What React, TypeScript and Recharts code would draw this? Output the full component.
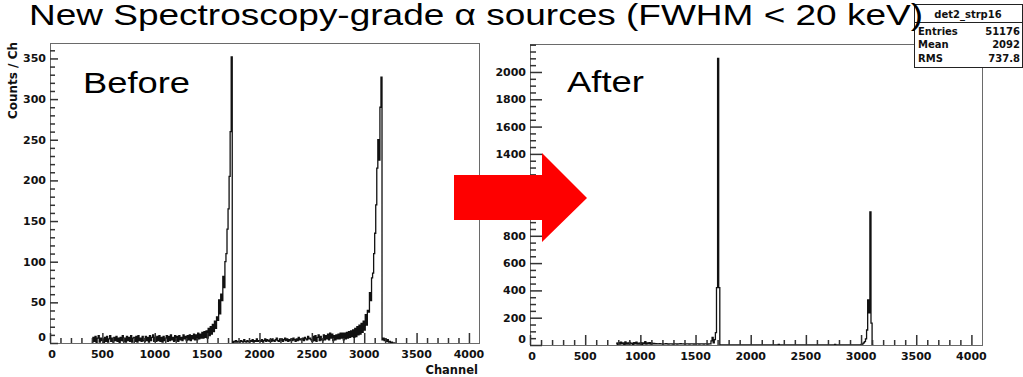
import { LineChart, Line, XAxis, YAxis } from "recharts";

// Histogram bins are 10 channels wide; each array starts at the given channel.
const BIN = 10;

const BEFORE_FIRST = 400;
const BEFORE_COUNTS = [
  1, 7, 2, 8, 0, 6, 9, 1, 6, 3,
  5, 0, 7, 2, 8, 1, 5, 9, 2, 6,
  1, 7, 3, 8, 2, 6, 0, 7, 3, 9,
  2, 6, 1, 8, 3, 7, 2, 9, 1, 6,
  7, 2, 8, 1, 9, 3, 6, 2, 8, 3,
  2, 8, 3, 7, 1, 9, 3, 7, 10, 2,
  7, 2, 8, 3, 9, 2, 7, 1, 8, 3,
  6, 9, 2, 8, 3, 10, 4, 7, 2, 9,
  3, 8, 2, 9, 4, 7, 3, 10, 5, 8,
  3, 9, 4, 10, 3, 9, 5, 11, 4, 10,
  4, 12, 5, 11, 6, 13, 6, 14, 7, 15,
  6, 18, 9, 20, 11, 23, 14, 27, 18, 32,
  28, 53, 36, 60, 52, 82, 68, 100, 110, 140,
  165, 205, 260, 352, 0, 2, 1, 3, 1, 2,
  2, 1, 3, 2, 1, 4, 2, 1, 3, 2,
  1, 3, 2, 4, 1, 3, 2, 5, 2, 3,
  3, 2, 4, 1, 3, 5, 2, 4, 3, 2,
  4, 2, 5, 3, 2, 4, 6, 3, 2, 5,
  3, 5, 2, 4, 6, 3, 5, 2, 4, 3,
  5, 3, 6, 4, 2, 5, 3, 7, 4, 5,
  4, 6, 3, 7, 5, 4, 8, 5, 6, 4,
  2, 8, 3, 9, 2, 7, 10, 3, 8, 4,
  3, 10, 4, 9, 5, 11, 4, 12, 6, 11,
  3, 9, 4, 10, 5, 11, 5, 12, 6, 12,
  4, 12, 5, 13, 6, 14, 7, 15, 8, 16,
  7, 18, 8, 20, 10, 22, 11, 24, 13, 27,
  16, 35, 22, 40, 38, 62, 52, 80, 86, 110,
  135, 170, 215, 250, 225, 290, 327, 4, 6, 3,
  5, 2, 4, 1, 2, 0, 1, 0, 0, 0,
];

const AFTER_LOW_FIRST = 780;
const AFTER_LOW_COUNTS = [
  14, 4, 18, 6, 20, 8, 15, 5, 22, 7,
  16, 6, 19, 9, 14, 5, 17, 8, 21, 6,
  13, 7, 18, 5, 16, 9, 24, 6, 15, 8,
  17, 6, 14, 9, 12, 8, 9, 8, 8, 9,
  8, 8, 7, 8, 8, 9, 8, 7, 8, 8,
  8, 7, 8, 8, 8, 7, 8, 8, 9, 8,
  8, 8, 7, 8, 8, 8, 7, 8, 8, 8,
  7, 8, 8, 8, 8, 7, 8, 8, 8, 7,
  8, 8, 8, 7, 8, 8, 30, 55, 15, 40,
  90, 420, 2100, 420, 0, 0, 0, 0, 0, 0,
];

const AFTER_HIGH_FIRST = 2200;
const AFTER_HIGH_COUNTS = [
  0, 0, 0, 0, 0, 4, 0, 0, 0, 0,
  0, 0, 0, 0, 0, 0, 0, 0, 0, 0,
  0, 0, 0, 0, 0, 0, 0, 0, 0, 0,
  0, 0, 0, 0, 0, 0, 0, 0, 0, 0,
  0, 0, 0, 0, 0, 0, 0, 0, 0, 0,
  0, 0, 0, 0, 0, 0, 5, 0, 0, 0,
  0, 0, 0, 0, 0, 0, 0, 0, 0, 0,
  0, 0, 0, 0, 0, 0, 0, 0, 0, 0,
  5, 8, 15, 25, 45, 110, 330, 235, 975, 160,
  0,
];

const X_LABELS = [0, 500, 1000, 1500, 2000, 2500, 3000, 3500, 4000];
const BEFORE_Y_LABELS = [0, 50, 100, 150, 200, 250, 300, 350];
const AFTER_Y_LABELS = [0, 200, 400, 600, 800, 1000, 1200, 1400, 1600, 1800, 2000];
const STATS_TITLE = "det2_strp16";
const STATS_ROWS = [
  ["Entries", "51176"],
  ["Mean", "2092"],
  ["RMS", "737.8"],
];

const AXIS_FONT = "'DejaVu Sans', sans-serif";
const TEXT_FONT = "'Liberation Sans', Arial, sans-serif";
const H = 377;
const X_MAX = 4096;

function range(from: number, to: number, step: number) {
  const out: number[] = [];
  for (let v = from; v <= to; v += step) out.push(v);
  return out;
}

function toBins(first: number, counts: number[]) {
  return counts.map((n, i) => ({ ch: first + i * BIN, n }));
}

const beforeData = [
  ...toBins(BEFORE_FIRST, BEFORE_COUNTS),
  { ch: BEFORE_FIRST + BEFORE_COUNTS.length * BIN, n: 0 },
];
const afterData = [
  ...toBins(AFTER_LOW_FIRST, AFTER_LOW_COUNTS),
  ...toBins(AFTER_HIGH_FIRST, AFTER_HIGH_COUNTS),
  { ch: AFTER_HIGH_FIRST + AFTER_HIGH_COUNTS.length * BIN, n: 0 },
];

type Plot = { l: number; r: number; t: number; b: number };

type PanelProps = {
  x0: number;
  plot: Plot;
  data: { ch: number; n: number }[];
  yMax: number;
  yLabels: number[];
};

function Panel({ x0, plot, data, yMax, yLabels }: PanelProps) {
  const width = plot.r - x0 + 12;
  const axisY = plot.b;
  const axisX = plot.l - x0;

  const xLabel = (p: any) => {
    const v = p.payload.value as number;
    return (
      <text x={p.x + (v === 0 ? 2 : 0)} y={axisY + 15} textAnchor="middle"
        fontFamily={AXIS_FONT} fontWeight="bold" fontSize={11} fill="#111">
        {v}
      </text>
    );
  };

  const yLabel = (p: any) => {
    const v = p.payload.value as number;
    return (
      <text x={axisX - 4} y={p.y + 4 - (v === 0 ? 6 : 0)} textAnchor="end"
        fontFamily={AXIS_FONT} fontWeight="bold" fontSize={11} fill="#111">
        {v}
      </text>
    );
  };

  return (
    <div style={{ position: "absolute", left: x0, top: 0 }}>
      <LineChart width={width} height={H} data={data}
        margin={{ top: plot.t, right: width - (plot.r - x0), bottom: H - plot.b - 20, left: 0 }}>
        <XAxis type="number" dataKey="ch" domain={[0, X_MAX]} ticks={X_LABELS} interval={0}
          axisLine={false} tickLine={false} tick={xLabel} height={20} />
        <YAxis type="number" domain={[0, yMax]} ticks={yLabels} interval={0}
          axisLine={false} tickLine={false} tick={yLabel} width={axisX} />
        <Line type="stepAfter" dataKey="n" stroke="#111" strokeWidth={1.3} dot={false}
          activeDot={false} isAnimationActive={false} />
      </LineChart>
    </div>
  );
}

type FrameProps = {
  plot: Plot;
  yMax: number;
  yLabels: number[];
  yMinorStep: number;
  yMinorTop: number;
  yMajorLen: number;
  yMinorLen: number;
};

// ROOT-style frame with inward-pointing ticks (majors at the labels, minors between),
// drawn as thin filled rects
function Frame({ plot, yMax, yLabels, yMinorStep, yMinorTop, yMajorLen, yMinorLen }: FrameProps) {
  const sx = (v: number) => plot.l + (v / X_MAX) * (plot.r - plot.l);
  const sy = (v: number) => plot.b - (v / yMax) * (plot.b - plot.t);
  const yStep = yLabels[1] - yLabels[0];
  const yTop = yLabels[yLabels.length - 1];
  return (
    <g>
      <rect x={plot.l + 0.5} y={plot.t + 0.5} width={plot.r - plot.l} height={plot.b - plot.t}
        fill="none" stroke="#6a6a6a" strokeWidth={1} />
      {range(0, 4000, 100).map((v) => {
        const len = v % 500 === 0 ? 10 : 5;
        return <rect key={`x${v}`} x={sx(v) - 0.25} y={plot.b - len} width={1.5} height={len} fill="#333" />;
      })}
      {range(0, yMinorTop, yMinorStep).map((v) => {
        const len = v % yStep === 0 && v <= yTop ? yMajorLen : yMinorLen;
        return <rect key={`y${v}`} x={plot.l} y={sy(v) - 0.25} width={len} height={1.5} fill="#333" />;
      })}
    </g>
  );
}

const BEFORE_PLOT: Plot = { l: 50, r: 479, t: 43, b: 343 };
const AFTER_PLOT: Plot = { l: 530, r: 982, t: 44, b: 345 };

export default function App() {
  return (
    <div style={{ position: "fixed", left: 0, top: 0, width: 1023, height: H, background: "#fff", overflow: "hidden" }}>
      <Panel x0={0} plot={BEFORE_PLOT} data={beforeData} yMax={369} yLabels={BEFORE_Y_LABELS} />
      <Panel x0={480} plot={AFTER_PLOT} data={afterData} yMax={2205} yLabels={AFTER_Y_LABELS} />

      <svg width={1023} height={H} style={{ position: "absolute", left: 0, top: 0, pointerEvents: "none" }}>
        <Frame plot={BEFORE_PLOT} yMax={369} yLabels={BEFORE_Y_LABELS} yMinorStep={10} yMinorTop={360}
          yMajorLen={8} yMinorLen={5} />
        <Frame plot={AFTER_PLOT} yMax={2205} yLabels={AFTER_Y_LABELS} yMinorStep={50} yMinorTop={2200}
          yMajorLen={12} yMinorLen={6} />

        <text x={17} y={42} transform="rotate(-90 17 42)" textAnchor="end"
          fontFamily={AXIS_FONT} fontWeight="bold" fontSize={12} fill="#111">
          Counts / Ch
        </text>
        <text x={478} y={374} textAnchor="end" fontFamily={AXIS_FONT} fontWeight="bold" fontSize={11.5} fill="#111">
          Channel
        </text>

        <text x={83} y={93} fontFamily={TEXT_FONT} fontSize={30} textLength={107} lengthAdjust="spacingAndGlyphs" fill="#000">
          Before
        </text>
        <text x={567} y={92} fontFamily={TEXT_FONT} fontSize={30} textLength={77} lengthAdjust="spacingAndGlyphs" fill="#000">
          After
        </text>

        <polygon points="454,175 542,175 542,153 587,198 542,242 542,220 454,220" fill="#fe0000" />

        <g fontFamily={AXIS_FONT} fontWeight="bold" fontSize={10} fill="#111">
          <rect x={914.5} y={4.5} width={108} height={63} fill="#fff" stroke="#222" />
          <rect x={915} y={22} width={108} height={1} fill="#222" />
          <text x={968} y={18} textAnchor="middle">{STATS_TITLE}</text>
          {STATS_ROWS.map(([k, v], i) => (
            <g key={k}>
              <text x={918} y={35 + i * 13.3}>{k}</text>
              <text x={1020} y={35 + i * 13.3} textAnchor="end">{v}</text>
            </g>
          ))}
        </g>

        <text x={29} y={25} fontFamily={TEXT_FONT} fontSize={29} textLength={894} lengthAdjust="spacingAndGlyphs" fill="#000">
          New Spectroscopy-grade α sources (FWHM &lt; 20 keV)
        </text>
      </svg>
    </div>
  );
}
